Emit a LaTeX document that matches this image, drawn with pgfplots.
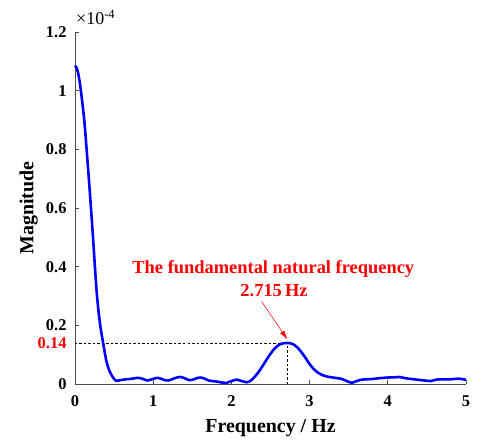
\documentclass[border=0pt]{standalone}
\usepackage{fontspec}
\setmainfont{Liberation Serif}
\usepackage{pgfplots}
\pgfplotsset{compat=1.18}
\usetikzlibrary{arrows.meta}
\begin{document}
\begin{tikzpicture}
\path[use as bounding box] (-75bp,-60bp) rectangle (414bp,384bp);
\begin{axis}[
  at={(0,0)}, anchor=south west,
  scale only axis, width=391bp, height=352bp,
  xmin=0, xmax=5, ymin=0, ymax=1.2,
  axis x line*=bottom, axis y line*=left,
  axis line style={black!70, line width=0.9pt},
  tick style={black!70, line width=0.8pt},
  tick align=inside, major tick length=4bp,
  xtick={0,1,2,3,4,5},
  ytick={0,0.2,0.4,0.6,0.8,1,1.2},
  yticklabels={0,0.2,0.4,0.6,0.8,1,1.2},
  extra y ticks={0.14},
  extra y tick labels={0.14},
  extra y tick style={major tick length=0pt, tick label style={text=red}},
  /pgf/number format/assume math mode=true,
  xticklabel style={font=\fontsize{16.5}{16.5}\selectfont\bfseries, yshift=-8bp},
  yticklabel style={font=\fontsize{16.5}{16.5}\selectfont\bfseries, xshift=-5bp},
  every axis x label/.style={at={(axis description cs:0.5,-0.139)}, anchor=base, font=\fontsize{20}{20}\selectfont\bfseries},
  every axis y label/.style={at={(axis description cs:-0.1066,0.5)}, anchor=base, rotate=90, font=\fontsize{20}{20}\selectfont\bfseries},
  xlabel={Frequency / Hz},
  ylabel={Magnitude},
  clip=false,
]
\addplot[black, line width=0.5pt, dash pattern=on 2.5bp off 2bp] coordinates {(0,0.14) (2.715,0.14)};
\addplot[black, line width=0.5pt, dash pattern=on 2.5bp off 2bp] coordinates {(2.715,0) (2.715,0.14)};
\addplot[blue, line width=2.6pt, smooth, tension=0.4] coordinates {
(0.000,1.085) (0.020,1.078) (0.040,1.060) (0.060,1.030) (0.080,0.990)
(0.100,0.945) (0.120,0.895) (0.140,0.830) (0.160,0.760) (0.180,0.690)
(0.200,0.615) (0.220,0.540) (0.240,0.460) (0.260,0.378) (0.280,0.305)
(0.300,0.250) (0.320,0.205) (0.340,0.170) (0.360,0.140) (0.380,0.108)
(0.400,0.080) (0.420,0.060) (0.440,0.045) (0.460,0.034) (0.480,0.025)
(0.500,0.017) (0.520,0.012) (0.540,0.011)
(0.60,0.014) (0.65,0.016) (0.70,0.017) (0.75,0.019) (0.80,0.021)
(0.85,0.019) (0.90,0.014) (0.93,0.012) (0.97,0.015) (1.02,0.019)
(1.06,0.021) (1.10,0.018) (1.15,0.013) (1.19,0.012) (1.24,0.016)
(1.30,0.022) (1.34,0.024) (1.39,0.021) (1.44,0.015) (1.47,0.013)
(1.52,0.016) (1.57,0.021) (1.61,0.022) (1.66,0.018) (1.71,0.012)
(1.76,0.010) (1.82,0.008) (1.88,0.005) (1.94,0.004) (2.00,0.010)
(2.07,0.015) (2.13,0.010) (2.20,0.006) (2.25,0.012) (2.30,0.025)
(2.35,0.042) (2.40,0.062) (2.45,0.083) (2.50,0.103) (2.55,0.120)
(2.60,0.132) (2.65,0.138) (2.715,0.140) (2.75,0.139) (2.80,0.134)
(2.85,0.123) (2.90,0.107) (2.95,0.088) (3.00,0.068) (3.05,0.052)
(3.10,0.040) (3.15,0.032) (3.20,0.027) (3.25,0.024) (3.30,0.022)
(3.35,0.020) (3.40,0.018) (3.45,0.013) (3.50,0.007) (3.54,0.004)
(3.58,0.008) (3.65,0.014) (3.72,0.016) (3.80,0.017) (3.90,0.020)
(4.00,0.022) (4.10,0.023) (4.15,0.024) (4.22,0.020) (4.30,0.017)
(4.40,0.014) (4.50,0.011) (4.55,0.010) (4.62,0.015) (4.70,0.016)
(4.80,0.016) (4.90,0.018) (4.95,0.017) (5.00,0.014)
};
\draw[red, line width=0.5pt, -{Latex[length=9bp,width=5bp]}] (axis cs:2.387,0.281) -- (axis cs:2.715,0.152);
\node[red, anchor=base, font=\fontsize{18.5}{18.5}\selectfont\bfseries] at (axis cs:2.536,0.377) {The fundamental natural frequency};
\node[red, anchor=base, font=\fontsize{18.5}{18.5}\selectfont\bfseries] at (axis cs:2.545,0.298) {2.715\,Hz};
\node[anchor=base west, inner sep=0pt, font=\fontsize{18}{18}\selectfont] at (axis description cs:0.0026,1.0199) {×10\textsuperscript{-4}};
\end{axis}
\end{tikzpicture}
\end{document}
